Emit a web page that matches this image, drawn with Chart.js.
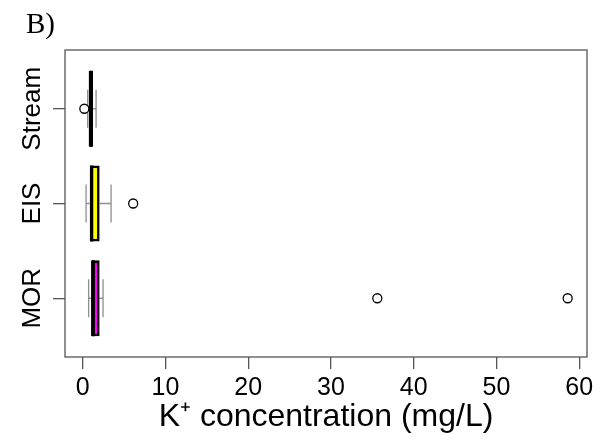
<!DOCTYPE html>
<html>
<head>
<meta charset="utf-8">
<script src="https://cdn.jsdelivr.net/npm/chart.js@4.4.0/dist/chart.umd.min.js"></script>
<style>
  body { margin: 0; background: #fff; }
  #wrap { width: 605px; height: 445px; }
</style>
</head>
<body>
<div id="wrap"><canvas id="box_canvas"></canvas></div>
<script>
// groups listed bottom to top, like R's horizontal boxplot
const GROUPS = ['MOR', 'EIS', 'Stream'];
const POSITIONS = [1, 2, 3];
const LOW_WHISKER = [0.72, 0.41, 0.60];
const Q1 = [1.01, 0.85, 0.72];
const MEDIAN = [1.30, 1.10, 1.00];
const Q3 = [2.05, 2.05, 1.26];
const HIGH_WHISKER = [2.46, 3.43, 1.62];
const OUTLIERS = [[35.6, 58.6], [6.1], [0.2]];
const BOX_COLORS = ['#ff00ff', '#ffff00', '#000000'];
const X_TICKS = [0, 10, 20, 30, 40, 50, 60];
const PANEL_LABEL = 'B)';

const BOX_WEX = 0.8;      // box height in group units
const STAPLE_WEX = 0.5;   // whisker cap relative to box

const SANS = 'Liberation Sans, Arial, sans-serif';

// R style limits: data range plus 4% each side
var allValues = [].concat(LOW_WHISKER, HIGH_WHISKER, ...OUTLIERS);
var lo = Math.min(...allValues), hi = Math.max(...allValues);
var xPad = (hi - lo) * 0.04;
var yPad = GROUPS.length * 0.04;

var whiskerData = [];
var medianData = [];
var outlierData = [];
var boxData = [];
GROUPS.forEach((name, i) => {
    var y = POSITIONS[i];
    var cap = BOX_WEX * STAPLE_WEX / 2;
    var half = BOX_WEX / 2;
    whiskerData.push({ x: LOW_WHISKER[i], y: y }, { x: Q1[i], y: y }, { x: null, y: null });
    whiskerData.push({ x: Q3[i], y: y }, { x: HIGH_WHISKER[i], y: y }, { x: null, y: null });
    whiskerData.push({ x: LOW_WHISKER[i], y: y - cap }, { x: LOW_WHISKER[i], y: y + cap }, { x: null, y: null });
    whiskerData.push({ x: HIGH_WHISKER[i], y: y - cap }, { x: HIGH_WHISKER[i], y: y + cap }, { x: null, y: null });
    medianData.push({ x: MEDIAN[i], y: y - half }, { x: MEDIAN[i], y: y + half }, { x: null, y: null });
    boxData.push({ x: [Q1[i], Q3[i]], y: y });
    OUTLIERS[i].forEach(v => outlierData.push({ x: v, y: y }));
});

// plot frame like R's box(), plus the panel letter
const framePlugin = {
    id: 'frame',
    afterDraw(chart) {
        const { ctx, chartArea: a } = chart;
        ctx.save();
        ctx.strokeStyle = '#555';
        ctx.lineWidth = 1.3;
        ctx.strokeRect(a.left, a.top, a.right - a.left, a.bottom - a.top);
        ctx.fillStyle = '#000';
        ctx.font = '29px "Liberation Serif", "Times New Roman", serif';
        ctx.textBaseline = 'alphabetic';
        ctx.fillText(PANEL_LABEL, 26, 33);
        ctx.restore();
    }
};

new Chart(document.getElementById('box_canvas'), {
    type: 'scatter',
    data: {
        datasets: [{
            label: 'whiskers',
            data: whiskerData,
            showLine: true,
            spanGaps: false,
            borderColor: '#8f8f8f',
            borderWidth: 1.3,
            pointRadius: 0,
            order: 4
        }, {
            type: 'bar',
            label: 'boxes',
            indexAxis: 'y',
            data: boxData,
            backgroundColor: BOX_COLORS,
            borderColor: '#000',
            borderWidth: 2.6,
            borderSkipped: false,
            categoryPercentage: 1,
            barPercentage: BOX_WEX,
            order: 3
        }, {
            label: 'medians',
            data: medianData,
            showLine: true,
            spanGaps: false,
            borderColor: '#000',
            borderWidth: 3,
            borderCapStyle: 'butt',
            pointRadius: 0,
            order: 2
        }, {
            label: 'outliers',
            data: outlierData,
            pointStyle: 'circle',
            pointRadius: 4.5,
            pointBackgroundColor: '#fff',
            pointBorderColor: '#000',
            pointBorderWidth: 1.3,
            order: 1
        }]
    },
    options: {
        responsive: true,
        maintainAspectRatio: false,
        animation: false,
        events: [],
        layout: { padding: { left: 0, right: 18, top: 50, bottom: 0 } },
        plugins: {
            legend: { display: false },
            tooltip: { enabled: false },
            title: { display: false }
        },
        scales: {
            x: {
                type: 'linear',
                min: lo - xPad,
                max: hi + xPad,
                offset: false,
                afterBuildTicks: (scale) => { scale.ticks = X_TICKS.map(v => ({ value: v })); },
                afterFit: (scale) => { scale.height = 88; },
                grid: { drawOnChartArea: false, drawTicks: true, tickLength: 12, color: '#555', lineWidth: 1.3, offset: false },
                border: { display: false },
                ticks: { color: '#000', font: { family: SANS, size: 25 }, padding: 4, maxRotation: 0, autoSkip: false },
                title: {
                    display: true,
                    text: 'K\u207A concentration (mg/L)',
                    color: '#000',
                    font: { family: SANS, size: 32 },
                    padding: { top: 0, bottom: 9 }
                }
            },
            y: {
                type: 'linear',
                min: 1 - 0.5 - yPad,
                max: GROUPS.length + 0.5 + yPad,
                offset: false,
                afterBuildTicks: (scale) => { scale.ticks = POSITIONS.map(v => ({ value: v })); },
                afterFit: (scale) => { scale.width = 65; },
                grid: { drawOnChartArea: false, drawTicks: true, tickLength: 12, color: '#555', lineWidth: 1.3, offset: false },
                border: { display: false },
                ticks: {
                    color: '#000',
                    font: { family: SANS, size: 26 },
                    minRotation: 90,
                    maxRotation: 90,
                    crossAlign: 'center',
                    padding: -22,
                    autoSkip: false,
                    callback: (value) => GROUPS[POSITIONS.indexOf(value)]
                }
            }
        }
    },
    plugins: [framePlugin]
});
</script>
</body>
</html>
